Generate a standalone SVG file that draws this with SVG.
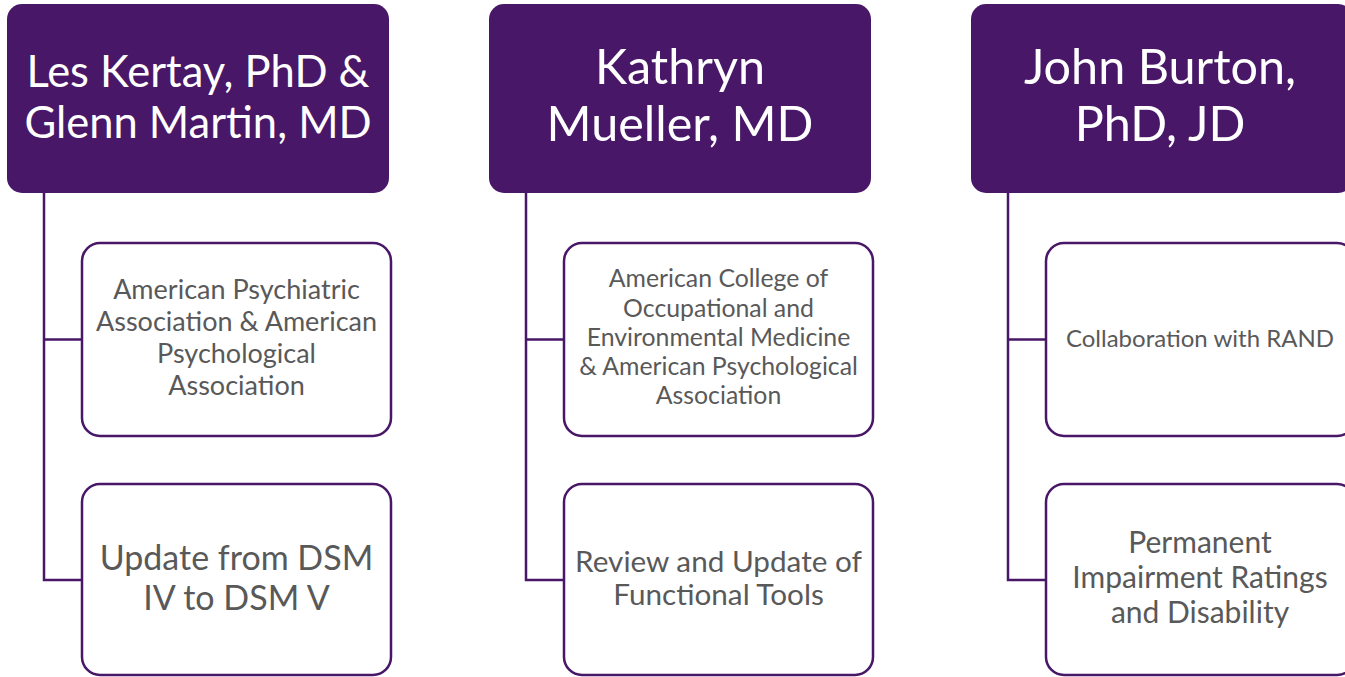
<svg xmlns="http://www.w3.org/2000/svg" width="1345" height="677" viewBox="0 0 1345 677">
<style>
.hdr{fill:#481768;}
.hd{font-family:Lato,"Liberation Sans",sans-serif;fill:#ffffff;text-anchor:middle;}
.box{fill:#ffffff;stroke:#481768;stroke-width:2.5;}
.tx{font-family:Lato,"Liberation Sans",sans-serif;fill:#595959;text-anchor:middle;}
.con{fill:none;stroke:#481768;stroke-width:2.5;}
</style>
<rect width="1345" height="677" fill="#ffffff"/>
<g id="connectors">
<path class="con" d="M44,193 V580 H82 M44,339.5 H82"/>
<path class="con" d="M526,193 V580 H564 M526,339.5 H564"/>
<path class="con" d="M1008,193 V580 H1046 M1008,339.5 H1046"/>
</g>
<g id="h1">
<rect class="hdr" x="7" y="4" width="382" height="189" rx="15"/>
<text class="hd" font-size="43.5" x="198" y="87">Les Kertay, PhD &amp;</text>
<text class="hd" font-size="43.5" x="198" y="138">Glenn Martin, MD</text>
</g>
<g id="h2">
<rect class="hdr" x="489" y="4" width="382" height="189" rx="15"/>
<text class="hd" font-size="48.5" x="680" y="84">Kathryn</text>
<text class="hd" font-size="48.5" x="680" y="141">Mueller, MD</text>
</g>
<g id="h3">
<rect class="hdr" x="971" y="4" width="382" height="189" rx="15"/>
<text class="hd" font-size="48.5" x="1160" y="84">John Burton,</text>
<text class="hd" font-size="48.5" x="1160" y="141">PhD, JD</text>
</g>
<g id="c1a">
<rect class="box" x="82" y="243" width="309" height="193" rx="18"/>
<text class="tx" font-size="27" x="236.5" y="298.5">American Psychiatric</text>
<text class="tx" font-size="27" x="236.5" y="331">Association &amp; American</text>
<text class="tx" font-size="27" x="236.5" y="363">Psychological</text>
<text class="tx" font-size="27" x="236.5" y="395">Association</text>
</g>
<g id="c1b">
<rect class="box" x="82" y="484" width="309" height="191" rx="18"/>
<text class="tx" font-size="34" x="236.5" y="569.5">Update from DSM</text>
<text class="tx" font-size="34" x="236.5" y="610">IV to DSM V</text>
</g>
<g id="c2a">
<rect class="box" x="564" y="243" width="309" height="193" rx="18"/>
<text class="tx" font-size="24.8" x="718.5" y="287">American College of</text>
<text class="tx" font-size="24.8" x="718.5" y="316.5">Occupational and</text>
<text class="tx" font-size="24.8" x="718.5" y="346">Environmental Medicine</text>
<text class="tx" font-size="24.8" x="718.5" y="375">&amp; American Psychological</text>
<text class="tx" font-size="24.8" x="718.5" y="404">Association</text>
</g>
<g id="c2b">
<rect class="box" x="564" y="484" width="309" height="191" rx="18"/>
<text class="tx" font-size="29.7" x="718.5" y="572">Review and Update of</text>
<text class="tx" font-size="29.7" x="718.5" y="605">Functional Tools</text>
</g>
<g id="c3a">
<rect class="box" x="1046" y="243" width="309" height="193" rx="18"/>
<text class="tx" font-size="24" x="1200" y="347">Collaboration with RAND</text>
</g>
<g id="c3b">
<rect class="box" x="1046" y="484" width="309" height="191" rx="18"/>
<text class="tx" font-size="30" x="1200" y="553">Permanent</text>
<text class="tx" font-size="30" x="1200" y="588">Impairment Ratings</text>
<text class="tx" font-size="30" x="1200" y="623">and Disability</text>
</g>
</svg>
